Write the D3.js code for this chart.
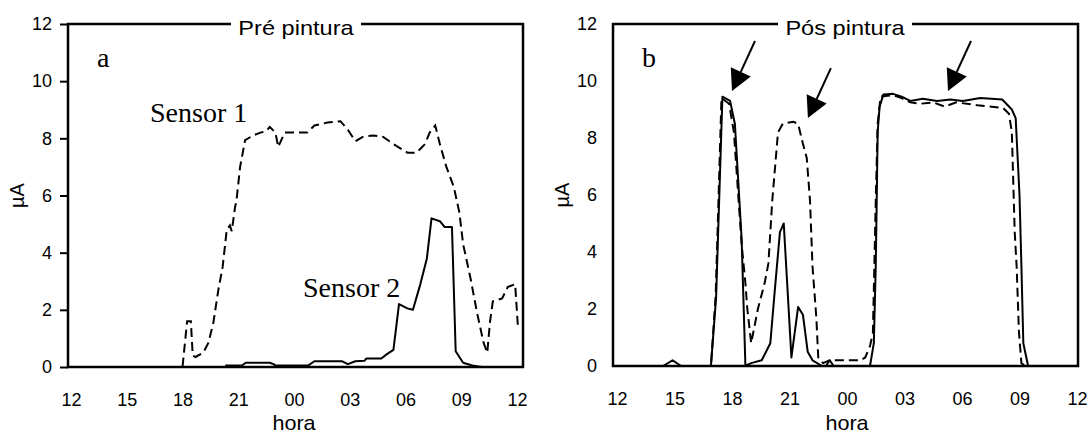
<!DOCTYPE html>
<html><head><meta charset="utf-8">
<script src="https://cdn.jsdelivr.net/npm/d3@7"></script>
<style>body{margin:0;background:#fff}svg{display:block}</style>
</head><body>
<svg id="c" width="1089" height="436"></svg>
<script>
// ---- data (t = hours elapsed since 12:00) ----
const hourTicks = [0,3,6,9,12,15,18,21,24];
const hourLabels = ["12","15","18","21","00","03","06","09","12"];
const yTicks = [0,2,4,6,8,10,12];

const preSensor1 = [[0,0],[6.0,0],[6.25,1.6],[6.45,1.6],[6.55,0.4],[6.7,0.35],[7.12,0.5],[7.39,0.84],[7.66,1.55],[7.93,2.7],[8.16,3.5],[8.38,4.8],[8.55,4.95],[8.65,4.75],[8.83,5.6],[8.9,5.8],[9.1,7.0],[9.37,7.94],[9.8,8.1],[10.2,8.2],[10.5,8.25],[10.7,8.4],[11.0,8.2],[11.15,7.7],[11.5,8.2],[11.95,8.2],[12.7,8.2],[13.1,8.45],[13.8,8.55],[14.5,8.6],[14.9,8.3],[15.3,7.9],[15.7,8.05],[16.25,8.1],[16.8,8.05],[17.35,7.8],[18.1,7.5],[18.6,7.5],[19.05,7.8],[19.3,8.2],[19.6,8.45],[19.85,7.8],[20.2,7.0],[20.6,6.3],[20.9,5.4],[21.1,4.3],[21.5,3.1],[21.85,1.9],[22.2,0.85],[22.4,0.5],[22.55,1.6],[22.7,2.3],[23.2,2.4],[23.5,2.8],[23.9,2.9],[24.05,1.4]];
const preSensor2 = [[8.3,0.05],[9.2,0.05],[9.4,0.15],[10.7,0.15],[10.9,0.1],[11.0,0.05],[12.75,0.05],[13.1,0.2],[14.6,0.2],[14.9,0.1],[15.3,0.2],[15.8,0.22],[15.9,0.3],[16.7,0.3],[17.0,0.45],[17.35,0.6],[17.65,2.2],[18.1,2.05],[18.4,2.0],[18.8,2.9],[19.15,3.8],[19.4,5.2],[19.85,5.1],[20.1,4.9],[20.5,4.9],[20.7,0.55],[21.1,0.15],[21.6,0.05],[22.1,0]];

const posSensor1 = [[0,0],[4.9,0],[5.15,2.5],[5.45,9.4],[5.85,9.2],[6.1,8.2],[6.5,4.3],[6.7,2.9],[6.8,2.0],[7.0,0.8],[7.35,2.0],[7.7,2.9],[7.9,3.6],[8.1,5.8],[8.4,8.2],[8.65,8.5],[9.2,8.57],[9.45,8.5],[9.7,7.8],[9.9,7.3],[10.07,5.8],[10.2,3.5],[10.4,1.7],[10.5,0.3],[10.75,0.1],[11.1,0.2],[12.7,0.2],[12.95,0.3],[13.2,0.7],[13.35,1.15],[13.5,5.8],[13.6,8.5],[13.75,9.45],[14.4,9.5],[14.85,9.4],[15.3,9.25],[15.8,9.2],[16.5,9.25],[17.1,9.1],[17.7,9.25],[18.8,9.15],[20.15,9.05],[20.45,8.85],[20.6,8.2],[20.75,4.7],[20.85,3.5],[20.97,1.2],[21.1,0.1],[21.3,0]];
const posSensor2 = [[0,0],[2.4,0],[2.9,0.2],[3.35,0],[4.9,0],[5.17,2.4],[5.5,9.45],[5.9,9.3],[6.15,8.5],[6.5,4.5],[6.7,0],[7.0,0.1],[7.55,0.2],[8.0,0.8],[8.2,2.4],[8.5,4.7],[8.7,5.0],[9.1,0.3],[9.45,2.07],[9.7,1.8],[9.95,0.5],[10.2,0.2],[10.7,0],[10.9,0],[11.1,0.2],[11.3,0],[13.2,0],[13.4,0.8],[13.5,3.5],[13.55,5.8],[13.6,8.2],[13.7,9.1],[13.9,9.53],[14.4,9.55],[14.85,9.45],[15.3,9.3],[15.95,9.38],[16.7,9.3],[17.4,9.35],[18.05,9.3],[18.95,9.4],[20.1,9.35],[20.6,9.0],[20.8,8.7],[21.0,6.0],[21.1,3.5],[21.2,0.8],[21.45,0]];

// arrow annotations (tip in data coords) for panel b
const arrowTips = [[6.0,9.65],[9.96,8.7],[17.27,9.65]];

// ---- layout ----
const svg = d3.select("#c");
const panels = [
  {frame:[68,523], top:24, bottom:367, xr:[71,517], title:"Pré pintura", titleX:296, letter:"a",
   yTickSize:8, s1:preSensor1, s2:preSensor2,
   labels:[{t:"Sensor 1",x:150,y:122},{t:"Sensor 2",x:303,y:297}], arrows:false},
  {frame:[613,1078], top:24, bottom:366, xr:[617,1077], title:"Pós pintura", titleX:845, letter:"b",
   yTickSize:0, s1:posSensor1, s2:posSensor2, labels:[], arrows:true}
];
const SANS = "'Liberation Sans', Arial, sans-serif";
const SERIF = "'Liberation Serif','Times New Roman',serif";

function stext(g, x, y, str, size, anchor, sx, family){
  return g.append("text")
    .attr("transform", `translate(${x},${y}) scale(${sx},1)`)
    .attr("text-anchor", anchor)
    .style("font-family", family || SANS)
    .style("font-size", size+"px")
    .attr("fill","#000")
    .text(str);
}

panels.forEach(p => {
  const g = svg.append("g");
  const x = d3.scaleLinear().domain([0,24]).range(p.xr);
  const y = d3.scaleLinear().domain([0,12]).range([p.bottom, p.top]);

  // y axis
  const ya = g.append("g").attr("transform",`translate(${p.frame[0]},0)`)
    .call(d3.axisLeft(y).tickValues(yTicks).tickSize(p.yTickSize).tickPadding(p.yTickSize?8:16));
  ya.select(".domain").remove();
  ya.selectAll("line").attr("stroke","#000").attr("stroke-width",2);
  ya.selectAll("text").style("font-family",SANS).style("font-size","18px").attr("fill","#000");

  // x axis
  const xa = g.append("g").attr("transform",`translate(0,${p.bottom})`)
    .call(d3.axisBottom(x).tickValues(hourTicks).tickFormat((d,i)=>hourLabels[i]).tickSize(0).tickPadding(26));
  xa.select(".domain").remove();
  xa.selectAll("text").style("font-family",SANS).style("font-size","18px").attr("fill","#000");

  // lines
  const line = d3.line().x(d=>x(d[0])).y(d=>y(d[1]));
  g.append("path").datum(p.s2).attr("d",line).attr("fill","none").attr("stroke","#000").attr("stroke-width",2).attr("stroke-linejoin","round");
  g.append("path").datum(p.s1).attr("d",line).attr("fill","none").attr("stroke","#000").attr("stroke-width",2).attr("stroke-dasharray","9,5");

  // frame
  g.append("rect").attr("x",p.frame[0]).attr("y",p.top).attr("width",p.frame[1]-p.frame[0]).attr("height",p.bottom-p.top)
    .attr("fill","none").attr("stroke","#000").attr("stroke-width",2.5);

  // title with white box breaking the frame
  const tsx = 1.15;
  const tt = stext(g, p.titleX, 35, p.title, 20.5, "middle", tsx);
  const bb = tt.node().getBBox();
  const w = bb.width*tsx + 14;
  g.insert("rect", () => tt.node()).attr("x", p.titleX - w/2).attr("y", 14).attr("width", w).attr("height", 20).attr("fill","#fff");

  // panel letter and labels (serif)
  stext(g, p.frame[0]+29, 67, p.letter, 28, "start", 1, SERIF);
  p.labels.forEach(l => stext(g, l.x, l.y, l.t, 28, "start", 1, SERIF));

  // axis titles
  stext(g, (p.xr[0]+p.xr[1])/2, 430, "hora", 20, "middle", 1.08);
  g.append("text").attr("transform",`translate(${p.frame[0]-44},${(p.top+p.bottom)/2}) rotate(-90)`)
    .attr("text-anchor","middle").style("font-family",SANS).style("font-size","20px").text("µA");

  // arrows
  if (p.arrows){
    arrowTips.forEach(a => {
      const tx = x(a[0]), ty = y(a[1]);
      const sx = tx + 23, sy = ty - 50;
      const dx = tx - sx, dy = ty - sy, L = Math.hypot(dx,dy);
      const ux = dx/L, uy = dy/L, hl = 21, hw = 11;
      const bx = tx - ux*hl, by = ty - uy*hl;
      g.append("line").attr("x1",sx).attr("y1",sy).attr("x2",bx).attr("y2",by).attr("stroke","#000").attr("stroke-width",2);
      g.append("path").attr("d",`M${tx},${ty}L${bx - uy*hw},${by + ux*hw}L${bx + uy*hw},${by - ux*hw}Z`).attr("fill","#000");
    });
  }
});
</script>
</body></html>
